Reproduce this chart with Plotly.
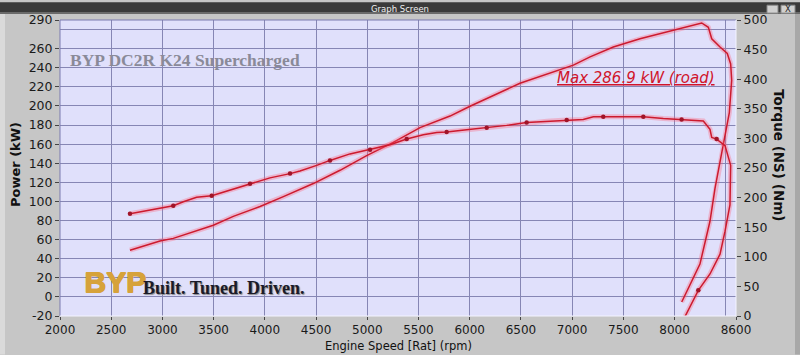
import plotly.graph_objects as go

# ---------------- data ----------------
power_rpm = [2683, 2976, 3106, 3367, 3497, 3692, 3855, 3953, 4181, 4473, 4734, 4994,
             5254, 5515, 5808, 6003, 6491, 7012, 7175, 7402, 7663, 7988, 8265, 8330,
             8363, 8444, 8515, 8548, 8558, 8535, 8476, 8395, 8346, 8248, 8070]
power_kw = [48.9, 58.5, 61.3, 70.6, 75.0, 84.3, 91.0, 94.7, 105.0, 118.7, 132.6, 148.0,
            161.8, 177.3, 189.4, 199.7, 223.8, 242.7, 251.4, 261.7, 270.3, 279.0, 286.9, 282.4,
            270.3, 261.7, 255.0, 244.0, 227.0, 193.0, 158.4, 113.6, 79.2, 34.4, -5.3]

torque_rpm = [2683, 2976, 3106, 3204, 3334, 3481, 3692, 3855, 4050, 4246, 4343, 4506,
              4636, 4831, 5027, 5222, 5385, 5547, 5678, 5775, 5970, 6166, 6361, 6556,
              6752, 6947, 7109, 7207, 7304, 7500, 7695, 7890, 8069, 8281, 8346, 8363,
              8411, 8493, 8548, 8541, 8493, 8444, 8346, 8232, 8102]
torque_nm = [172.8, 182.2, 186.2, 193.0, 200.5, 203.3, 214.4, 223.3, 233.3, 240.5, 245.0, 254.5,
             262.8, 273.8, 281.0, 289.4, 299.0, 306.0, 310.0, 311.0, 314.5, 318.0, 322.0, 326.7,
             328.8, 331.0, 332.0, 336.7, 336.7, 336.5, 336.7, 333.8, 332.0, 329.5, 315.5, 301.7,
             298.8, 287.8, 254.5, 187.8, 143.3, 104.5, 71.0, 43.3, -1.0]

marker_rpm = [2683, 3106, 3481, 3855, 4246, 4636, 5027, 5385, 5775, 6166, 6556, 6947,
              7304, 7695, 8069, 8411, 8232]
marker_nm = [172.8, 186.2, 203.3, 223.3, 240.5, 262.8, 281.0, 299.0, 311.0, 318.0, 326.7, 331.0,
             336.7, 336.7, 332.0, 298.8, 43.3]

x_ticks = [2000, 2500, 3000, 3500, 4000, 4500, 5000, 5500, 6000, 6500, 7000, 7500, 8000, 8600]
y_ticks = [-20, 0, 20, 40, 60, 80, 100, 120, 140, 160, 180, 200, 220, 240, 260, 290]
y2_ticks = [0, 50, 100, 150, 200, 250, 300, 350, 400, 450, 500]

# ---------------- geometry helpers ----------------
W, H = 800, 355
L, R, T, B = 60, 64, 16, 39
PW, PH = W - L - R, H - T - B


def px(x):
    return (x - L) / PW


def py(y):
    return 1 - (y - T) / PH


LINE = "#cc1a2e"
GLOW = "rgba(255,90,115,0.32)"
GRID = "#8686b4"
FONT = "DejaVu Sans, Liberation Sans, Arial, sans-serif"
SERIF = "Liberation Serif, DejaVu Serif, serif"
GOLD = "#d6a23a"

fig = go.Figure()
# glow layers
fig.add_trace(go.Scatter(x=power_rpm, y=power_kw, mode="lines", line=dict(color=GLOW, width=5),
                         hoverinfo="skip", showlegend=False))
fig.add_trace(go.Scatter(x=torque_rpm, y=torque_nm, yaxis="y2", mode="lines",
                         line=dict(color=GLOW, width=5), hoverinfo="skip", showlegend=False))
# core lines
fig.add_trace(go.Scatter(x=power_rpm, y=power_kw, mode="lines", name="Power (kW)",
                         line=dict(color=LINE, width=1.5), showlegend=False))
fig.add_trace(go.Scatter(x=torque_rpm, y=torque_nm, yaxis="y2", mode="lines", name="Torque (Nm)",
                         line=dict(color=LINE, width=1.5), showlegend=False))
fig.add_trace(go.Scatter(x=marker_rpm, y=marker_nm, yaxis="y2", mode="markers",
                         marker=dict(color="#a01428", size=4.5, symbol="circle"),
                         showlegend=False, hoverinfo="skip"))

shapes = [
    # title bar
    dict(type="rect", xref="paper", yref="paper", x0=px(0), x1=px(W), y0=py(10), y1=py(-2),
         fillcolor="#3a3a3a", line=dict(width=0), layer="above"),
    dict(type="rect", xref="paper", yref="paper", x0=px(0), x1=px(W), y0=py(10), y1=py(8),
         fillcolor="#6a6a6a", line=dict(width=0), layer="above"),
    # window buttons
    dict(type="rect", xref="paper", yref="paper", x0=px(767), x1=px(778), y0=py(9), y1=py(1),
         fillcolor="#d0d0d0", line=dict(color="#888", width=1), layer="above"),
    dict(type="rect", xref="paper", yref="paper", x0=px(781), x1=px(795), y0=py(9), y1=py(1),
         fillcolor="#d0d0d0", line=dict(color="#888", width=1), layer="above"),
    # side strips
    dict(type="rect", xref="paper", yref="paper", x0=px(0), x1=px(5), y0=py(H), y1=py(10),
         fillcolor="#dadada", line=dict(width=0), layer="below"),
    dict(type="rect", xref="paper", yref="paper", x0=px(795), x1=px(W), y0=py(H), y1=py(10),
         fillcolor="#a8a8a8", line=dict(width=0), layer="below"),
    # plot borders
    dict(type="line", xref="paper", yref="paper", x0=0, x1=1, y0=1, y1=1,
         line=dict(color="#7a7ab0", width=1), layer="above"),
    dict(type="line", xref="paper", yref="paper", x0=0, x1=0, y0=0, y1=1,
         line=dict(color="#7a7ab0", width=1), layer="above"),
    dict(type="line", xref="paper", yref="paper", x0=0, x1=1, y0=0, y1=0,
         line=dict(color="#f4f4ff", width=1), layer="above"),
    dict(type="line", xref="paper", yref="paper", x0=1, x1=1, y0=0, y1=1,
         line=dict(color="#f4f4ff", width=1), layer="above"),
]

annotations = [
    dict(text="Graph Screen", x=px(400), y=py(5), xref="paper", yref="paper", showarrow=False,
         font=dict(family=FONT, size=8.5, color="#f0f0f0"), xanchor="center", yanchor="middle"),
    dict(text="X", x=px(788), y=py(5), xref="paper", yref="paper", showarrow=False,
         font=dict(family=FONT, size=8.5, color="#222"), xanchor="center", yanchor="middle"),
    dict(text="<b>Power (kW)</b>", x=px(15), y=py(162), xref="paper", yref="paper", showarrow=False,
         textangle=-90, font=dict(family=FONT, size=13, color="#111"), xanchor="center", yanchor="middle"),
    dict(text="<b>Torque (NS) (Nm)</b>", x=px(779), y=py(153), xref="paper", yref="paper",
         showarrow=False, textangle=90, font=dict(family=FONT, size=13.5, color="#111"),
         xanchor="center", yanchor="middle"),
    dict(text="Engine Speed [Rat] (rpm)", x=px(398), y=py(346), xref="paper", yref="paper",
         showarrow=False, font=dict(family=FONT, size=11.5, color="#111"),
         xanchor="center", yanchor="middle"),
    dict(text="<b>BYP DC2R K24 Supercharged</b>", x=px(68), y=py(57), xref="paper", yref="paper",
         showarrow=False, font=dict(family=SERIF, size=17.5, color="#8a8a98"),
         xanchor="left", yanchor="middle"),
    dict(text="<u><i>Max 286.9 kW (road)</i></u>", x=px(555), y=py(75), xref="paper", yref="paper",
         showarrow=False, font=dict(family=FONT, size=15, color="#d0142a"),
         xanchor="left", yanchor="middle"),
    dict(text="<b>BYP</b>", x=px(82), y=py(281), xref="paper", yref="paper", showarrow=False,
         font=dict(family="Liberation Sans, Arial, sans-serif", size=30, color=GOLD,
                   shadow="1px 0 0 %s, 0 1px 0 %s, 1px 1px 0 %s" % (GOLD, GOLD, GOLD)),
         xanchor="left", yanchor="middle"),
    dict(text="<b>Built. Tuned. Driven.</b>", x=px(141), y=py(288), xref="paper", yref="paper",
         showarrow=False, font=dict(family=SERIF, size=18, color="#1a1a28",
                                     shadow="1px 1px 1px #8a8a8a"),
         xanchor="left", yanchor="middle"),
]

xtickfont = dict(family=FONT, size=12, color="#1a1a1a")
tickfont = dict(family=FONT, size=12.5, color="#1a1a1a")
fig.update_layout(
    width=W, height=H, autosize=False,
    margin=dict(l=L, r=R, t=T, b=B, pad=0),
    paper_bgcolor="#c6c6c6", plot_bgcolor="#e0e0fb",
    showlegend=False, shapes=shapes, annotations=annotations,
    xaxis=dict(range=[2000, 8600], tickvals=x_ticks, ticktext=[str(v) for v in x_ticks],
               ticks="outside", ticklen=3, tickcolor="#444", showgrid=True, gridcolor=GRID,
               gridwidth=1, zeroline=False, showline=False, tickfont=xtickfont,
               minor=dict(dtick=500, tick0=2000, showgrid=True, gridcolor=GRID, ticks="")),
    yaxis=dict(range=[-20, 290], tickvals=y_ticks, ticktext=[str(v) for v in y_ticks],
               ticks="outside", ticklen=4, tickcolor="#444", showgrid=True, gridcolor=GRID,
               gridwidth=1, zeroline=False, showline=False, tickfont=tickfont,
               minor=dict(dtick=20, tick0=0, showgrid=True, gridcolor=GRID, ticks="")),
    yaxis2=dict(range=[0, 500], tickvals=y2_ticks, ticktext=[str(v) for v in y2_ticks],
                overlaying="y", side="right", ticks="outside", ticklen=4, tickcolor="#444",
                showgrid=False, zeroline=False, showline=False, tickfont=tickfont),
)

fig.write_html("out.html")
